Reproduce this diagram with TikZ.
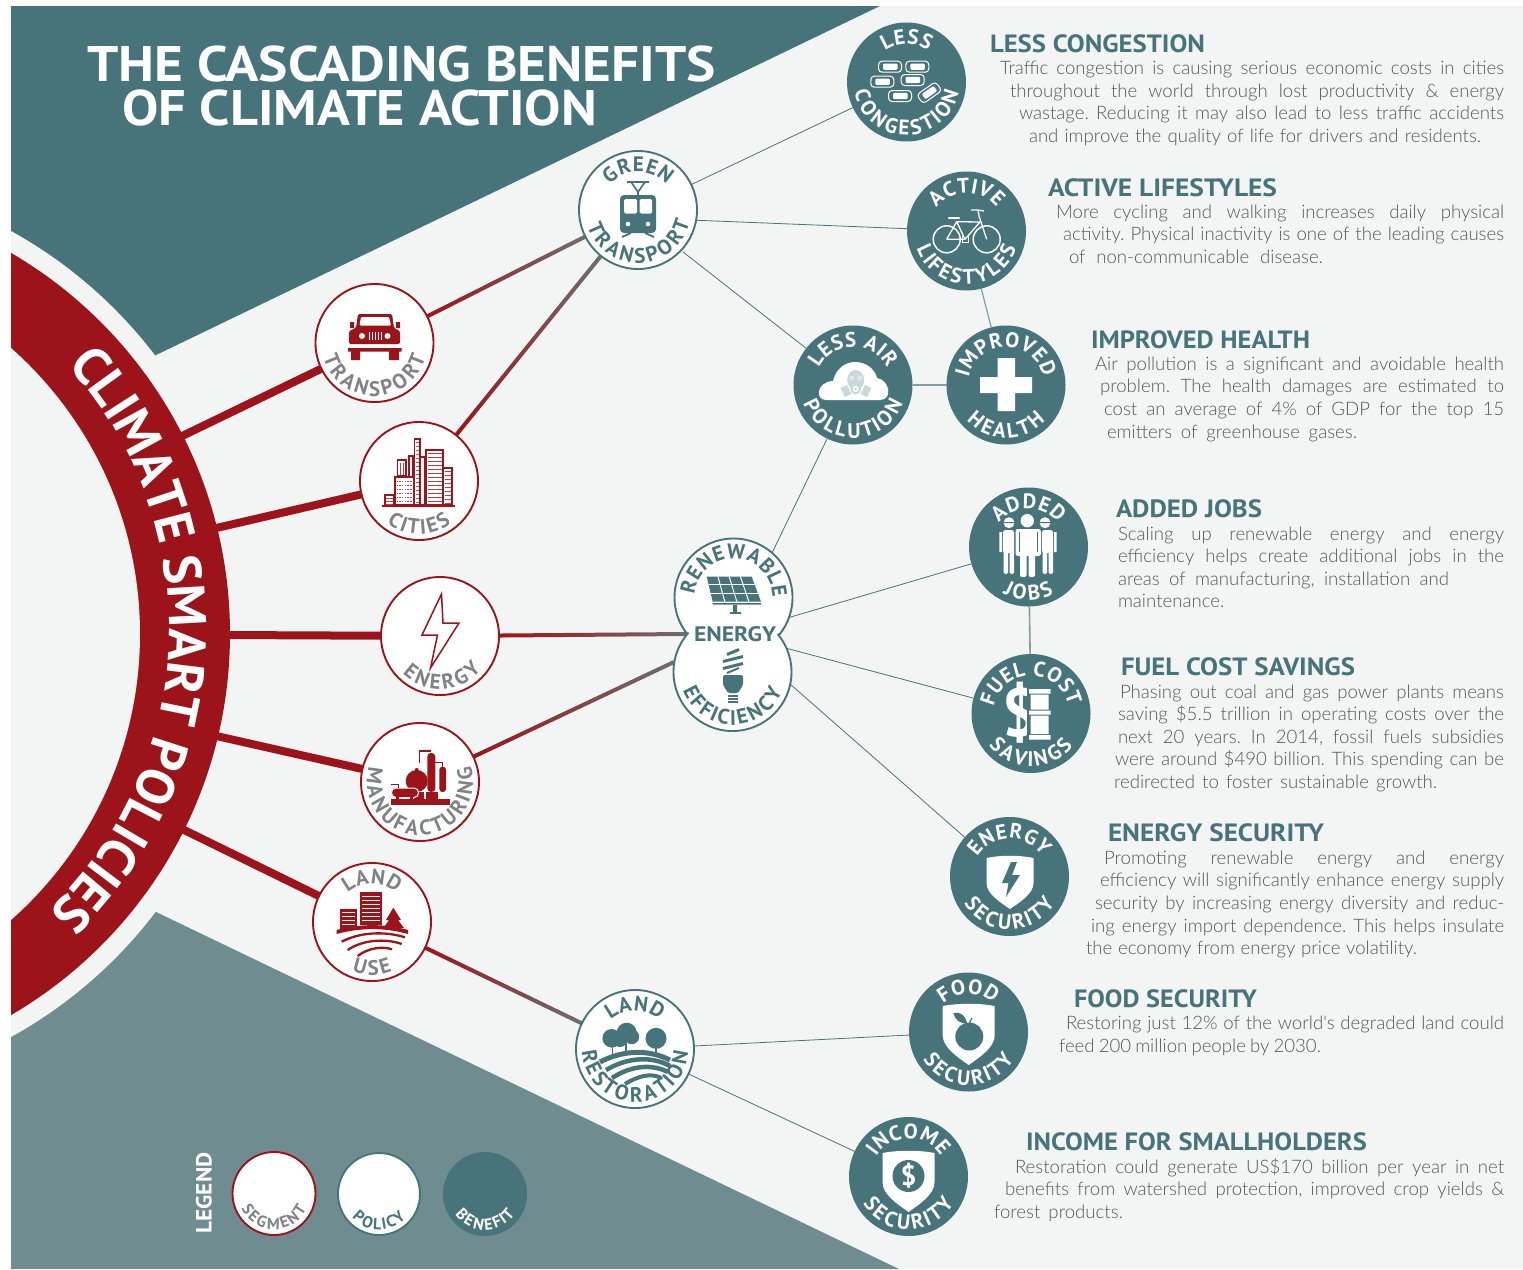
\documentclass[tikz,border=0pt]{standalone}
\usepackage{fontspec}
\usepackage{graphicx}
\usetikzlibrary{calc,decorations.text}
\newfontfamily\lblfam{PT Sans}
\newfontfamily\bodyfam{Lato Light}
\definecolor{teal1}{HTML}{47747B}
\definecolor{teal2}{HTML}{6F8C91}
\definecolor{segred}{HTML}{9C141A}
\definecolor{paper}{HTML}{F3F4F4}
\definecolor{bodyc}{HTML}{555859}
\definecolor{grayend}{HTML}{6E6E6E}
\definecolor{lblgray}{HTML}{7F8385}
\pgfdeclarelayer{bgl}\pgfdeclarelayer{conn}\pgfsetlayers{bgl,conn,main}
\tikzset{
 x=1pt,y=1pt,
 anynode/.style={circle,inner sep=0pt,outer sep=0pt,minimum size=118pt},
 segnode/.style={anynode,draw=segred,line width=1.9pt,fill=white},
 polnode/.style={anynode,draw=teal1,line width=1.9pt,fill=white},
 bennode/.style={anynode,fill=teal1,minimum size=119pt},
 thinconn/.style={draw=teal1,line width=0.8pt},
 palewire/.style={draw=teal2!85!white,line width=1.6pt},
 seglink/.style={draw=segred,line width=8pt},
 txt/.style={anchor=base west,inner sep=0pt,outer sep=0pt},
}
\newcommand\fW{\lblfam\bfseries\fontsize{21}{21}\selectfont\color{white}}
\newcommand\fT{\lblfam\bfseries\fontsize{21}{21}\selectfont\color{teal1}}
\newcommand\fG{\lblfam\bfseries\fontsize{21}{21}\selectfont\color{lblgray}}
\newcommand\fBand{\lblfam\bfseries\fontsize{53}{53}\selectfont\color{white}}
\def\arcraise{10.5}
% arc labels: node, baseline radius, angular offset, format, text
\newcommand\arctop[5]{\pgfmathsetmacro\midr{#2-2}\path[decorate,decoration={text along path,text align=center,raise=2pt,text={|#4|#5}}]
  (#1) ++({90+#3+130}:\midr) arc[start angle={90+#3+130},end angle={90+#3-130},radius=\midr];}
\newcommand\arcbot[5]{\pgfmathsetmacro\midr{#2-\arcraise}\path[decorate,decoration={text along path,text align=center,raise=-\arcraise pt,text={|#4|#5}}]
  (#1) ++({270+#3-130}:\midr) arc[start angle={270+#3-130},end angle={270+#3+130},radius=\midr];}
\newcount\txtc
\newcommand\bline[4]{\global\advance\txtc by 1
  \node[txt] (txt\the\txtc) at ({#1},{-(#3)-6}) {\hbox to \dimexpr#2pt-#1pt\relax{\bodyfam\fontsize{18.6}{20}\selectfont\color{bodyc}\frenchspacing\spaceskip=.2em plus 6em minus .14em\relax #4}};}
\newcommand\headline[4]{\global\advance\txtc by 1
  \node[txt] (txt\the\txtc) at ({#1},{-(#3)-9}) {\resizebox{\dimexpr#2pt-#1pt\relax}{\height}{\lblfam\bfseries\fontsize{25}{28}\selectfont\color{teal1}#4}};}
\newcommand\gradconn[3]{%
  \path (#1) -- (#2) coordinate[pos=0] (gs) coordinate[pos=1] (ge);
  \path let \p1=($(ge)-(gs)$) in \pgfextra{\pgfmathsetmacro\gang{atan2(\y1,\x1)}\pgfmathsetmacro\glen{veclen(\x1,\y1)}\global\let\Gang\gang\global\let\Glen\glen};
  \shade[transform canvas={shift={(gs)},rotate=\Gang},left color=segred,right color=grayend] (0,-#3) rectangle (\Glen,#3);
}
\newcommand\car[3]{\begin{scope}[shift={(#1,#2)},rotate=#3]
  \draw[white,line width=1pt,rounded corners=3.5pt] (-11.5,-5.5) rectangle (11.5,5.5);
  \fill[white,rounded corners=1.2pt] (-7,-3.2) rectangle (7.5,3.2);
\end{scope}}
\newcommand\shieldshape[5]{% cx top half height color
  \fill[#5] ({#1-#3},#2+3) .. controls ({#1-#3*.4},#2) and ({#1+#3*.4},#2) .. ({#1+#3},#2+3)
   -- ({#1+#3},{#2+#4*.52}) .. controls ({#1+#3},{#2+#4*.72}) and ({#1+#3*.4},{#2+#4*.88}) .. (#1,#2+#4)
   .. controls ({#1-#3*.4},{#2+#4*.88}) and ({#1-#3},{#2+#4*.72}) .. ({#1-#3},{#2+#4*.52}) -- cycle;}
\begin{document}
\begin{tikzpicture}
\useasboundingbox (0,0) rectangle (1523,-1269);
% ---------- nodes
\node[segnode] (transport) at (374.5,-343) {};
\node[segnode] (cities) at (419,-481) {};
\node[segnode] (energy) at (440,-636) {};
\node[segnode] (manuf) at (420,-782) {};
\node[segnode] (landuse) at (372,-922) {};
\node[polnode] (green) at (638,-210) {};
\node[polnode] (ren) at (733.5,-597.5) {};
\node[polnode] (eff) at (732.5,-672) {};
\node[polnode] (landres) at (635,-1049) {};
\node[bennode] (congest) at (906.5,-82) {};
\node[bennode] (active) at (966.5,-231) {};
\node[bennode] (lessair) at (853,-385) {};
\node[bennode] (health) at (1006,-385) {};
\node[bennode] (jobs) at (1028.5,-547) {};
\node[bennode] (fuel) at (1031,-713.5) {};
\node[bennode] (ensec) at (1009.5,-876.5) {};
\node[bennode] (food) at (968.5,-1032) {};
\node[bennode] (income) at (908.5,-1176.5) {};
\coordinate (ee) at (733,-634);
\coordinate (enend) at (686,-634);
\coordinate (mfend) at (674,-662);
\coordinate (b1) at (178,-438);
\coordinate (b2) at (212,-529);
\coordinate (b3) at (225,-635);
\coordinate (b4) at (212,-735);
\coordinate (b5) at (178,-827);
\coordinate (gact) at (690,-220);
\coordinate (actin) at (915,-229);
\coordinate (gair) at (682.7,-251.7);
% waist between the two merged circles
\fill[white] (ren.center) circle[radius=57] (eff.center) circle[radius=57];
% ---------- background
\begin{pgfonlayer}{bgl}
\begin{scope}
 \clip (11,-6) rectangle (1523,-1269);
 \fill[paper] (11,-6) rectangle (1523,-1269);
 \fill[teal1] (11,-6) -- (880,-6) -- (154,-356) -- (11,-356) -- cycle;
 \fill[teal2] (11,-1269) -- (899,-1269) -- (154,-911) -- (11,-911) -- cycle;
 \fill[paper] (-211,-634) circle[radius=460];
 \fill[segred] (-211,-634) circle[radius=441];
 \fill[paper] (-241.5,-634) circle[radius=381.5];
\end{scope}
\end{pgfonlayer}
% ---------- connectors
\begin{pgfonlayer}{conn}
\draw[seglink] (b1) -- (transport);
\draw[seglink] (b2) -- (cities);
\draw[seglink] (b3) -- (energy);
\draw[seglink] (b4) -- (manuf);
\draw[seglink] (b5) -- (landuse);
\gradconn{transport}{green}{2}
\gradconn{cities}{green}{2}
\gradconn{energy}{enend}{2}
\gradconn{manuf}{mfend}{2}
\gradconn{landuse}{landres}{2}
\draw[thinconn] (green) -- (congest);
\draw[thinconn] (gact) -- (actin);
\draw[thinconn] (gair) -- (lessair);
\draw[palewire,line width=1.2pt] (active) -- (health);
\draw[palewire] (lessair) -- (health);
\draw[thinconn] (ee) -- (lessair);
\draw[thinconn] (ee) -- (jobs);
\draw[thinconn] (ee) -- (fuel);
\draw[thinconn] (ee) -- (ensec);
\draw[palewire] (jobs) -- (fuel);
\draw[thinconn] (landres) -- (food);
\draw[thinconn] (landres) -- (income);
\end{pgfonlayer}
% ---------- title & band text
\node[txt] (title1) at (87,-81) {\resizebox{629pt}{\height}{\lblfam\bfseries\fontsize{50}{50}\selectfont\color{white}THE CASCADING BENEFITS}};
\node[txt] (title2) at (122,-125) {\resizebox{475pt}{\height}{\lblfam\bfseries\fontsize{50}{50}\selectfont\color{white}OF CLIMATE ACTION}};
\path[decorate,decoration={text along path,text align=center,text={|\fBand|CLIMATE SMART POLICIES}}]
  (-222,-628.5) ++(73:391) arc[start angle=73,end angle=-77,radius=391];
% ---------- arc labels
\arcbot{transport}{53}{0}{\fG}{TRANSPORT}
\arcbot{cities}{53}{0}{\fG}{CITIES}
\arcbot{energy}{53}{3}{\fG}{ENERGY}
\arcbot{manuf}{53}{0}{\fG}{MANUFACTURING}
\arctop{landuse}{38}{0}{\fG}{LAND}
\arcbot{landuse}{53}{0}{\fG}{USE}
\arctop{green}{38}{0}{\fT}{GREEN}
\arcbot{green}{53}{2}{\fT}{TRANSPORT}
\arctop{ren}{39}{-2}{\fT}{RENEWABLE}
\arcbot{eff}{53}{0}{\fT}{EFFICIENCY}
\arctop{landres}{38}{0}{\fT}{LAND}
\arcbot{landres}{53}{0}{\fT}{RESTORATION}
\arctop{congest}{38}{0}{\fW}{LESS}
\arcbot{congest}{53}{0}{\fW}{CONGESTION}
\arctop{active}{38}{0}{\fW}{ACTIVE}
\arcbot{active}{53}{0}{\fW}{LIFESTYLES}
\arctop{lessair}{38}{0}{\fW}{LESS AIR}
\arcbot{lessair}{53}{0}{\fW}{POLLUTION}
\arctop{health}{38}{0}{\fW}{IMPROVED}
\arcbot{health}{53}{0}{\fW}{HEALTH}
\arctop{jobs}{38}{0}{\fW}{ADDED}
\arcbot{jobs}{53}{0}{\fW}{JOBS}
\arctop{fuel}{38}{0}{\fW}{FUEL COST}
\arcbot{fuel}{53}{0}{\fW}{SAVINGS}
\arctop{ensec}{38}{0}{\fW}{ENERGY}
\arcbot{ensec}{53}{0}{\fW}{SECURITY}
\arctop{food}{38}{0}{\fW}{FOOD}
\arcbot{food}{53}{0}{\fW}{SECURITY}
\arctop{income}{38}{0}{\fW}{INCOME}
\arcbot{income}{53}{0}{\fW}{SECURITY}
\node[inner sep=0pt] (energyword) at (735,-634) {\resizebox{82pt}{\height}{\fT ENERGY}};
% ---------- icons (y running downward, real pixel coordinates)
\begin{scope}[yscale=-1]
% jeep
\begin{scope}[segred]
 \fill[segred,rounded corners=1.5pt] (356,328) -- (358,314) -- (392,314) -- (394,328) -- (400,331) -- (400,344) -- (349,344) -- (349,331) -- cycle;
 \fill[white,rounded corners=1pt] (359.5,325.5) -- (361,317) -- (389,317) -- (391,325.5) -- cycle;
 \fill[segred] (350,322) rectangle (354,328) (396,322) rectangle (400,328);
 \fill[segred] (348,348) rectangle (401.5,351.5) (351,351.5) rectangle (360,360) (389,351.5) rectangle (399,360);
 \fill[white] (362,336) circle[radius=3] (387.5,336) circle[radius=3];
 \foreach \x in {368.5,371.5,374.5,377.5,380.5} \fill[white] (\x,332) rectangle +(1.4,8);
\end{scope}
% cities
\begin{scope}[draw=segred,line width=1.1pt]
 \draw[line width=1.4pt] (382,506) -- (455,506);
 \draw (385,505) rectangle (394,495);
 \draw (395,505) rectangle (414,477);
 \draw (414.5,505) rectangle (420,439);
 \draw (420.5,505) rectangle (425,457);
 \draw (426,505) rectangle (443,450);
 \draw (443.5,505) rectangle (452,468);
 \draw (397.5,476) rectangle (406,460);
 \draw (409,476) -- (409,456) -- (413,456) -- (413,476);
 \foreach \y in {453,457,461,465,469,473,477,481,485,489,493,497,501} \draw[line width=.9pt,segred!80] (428,\y) -- (441.5,\y);
 \foreach \y in {471,475,479,483,487,491,495,499,503} \draw[line width=.9pt,segred!80] (445,\y) -- (450.5,\y);
 \foreach \y in {481,485,489,493,497,501} \draw[line width=1pt,dash pattern=on 1.5pt off 1.2pt,segred!80] (396.5,\y) -- (413,\y);
 \foreach \y in {442,446,450,454,458,462,466,470,474,478,482,486,490,494,498,502} \draw[line width=.8pt,segred!70] (415.7,\y) -- (418.8,\y);
 \foreach \y in {498,501,504} \draw[line width=.7pt,segred!80] (386,\y) -- (393,\y);
 \draw[line width=.8pt,segred!80] (400,463) -- (400,475) (403,463) -- (403,475);
\end{scope}
% energy bolt
\draw[segred,line width=1.5pt,line join=miter] (441.5,594) -- (422,635) -- (437.5,635) -- (430.5,668) -- (459,623) -- (443,623) -- cycle;
% manufacturing
\begin{scope}
 \fill[segred] (391,799) rectangle (450,804.7);
 \fill[segred] (426,791.7) rectangle (438.3,799);
 \fill[segred,rounded corners=3.5pt] (427.3,792) -- (427.3,753) -- (435.3,753) -- (435.3,792) -- cycle;
 \fill[segred,rounded corners=3pt] (439.3,792) -- (439.3,766.7) -- (446,766.7) -- (446,792) -- cycle;
 \draw[segred,line width=1.1pt] (419.3,763) -- (419.3,751) -- (431,751);
 \draw[segred,line width=1.1pt] (435,762.5) -- (442.7,762.5) -- (442.7,767);
 \fill[segred] (416.7,781) circle[radius=11];
 \fill[segred] (416.7,770) circle[radius=2];
 \fill[segred] (414,792) rectangle (424,799);
 \draw[white,line width=1pt,fill=segred,rounded corners=4.5pt] (391.5,788) rectangle (418.5,797.5);
 \fill[segred] (396,797) rectangle (399,799) (410,797) rectangle (413,799);
 \draw[segred,line width=1pt] (391,784.5) -- (398,784.5) -- (398,788);
\end{scope}
% land use
\begin{scope}
 \fill[segred] (360,892.3) rectangle (381.7,925);
 \foreach \y in {896,900,904,908,912,916,920} \fill[white] (362,\y) rectangle (379.7,\y+1.2);
 \fill[segred] (340,909.3) rectangle (357.3,929);
 \foreach \y in {912,916,920,924} \fill[white] (342,\y) rectangle (355.3,\y+1.2);
 \fill[segred] (393.3,907.7) -- (386,920) -- (389,920) -- (383.5,928) -- (404,928) -- (398,920) -- (401,920) -- cycle;
 \fill[segred] (336.7,930) .. controls (360,923.5) and (385,923.5) .. (408,930) -- (408,934) .. controls (385,927.5) and (360,927.5) .. (336.7,934) -- cycle;
 \draw[segred,line width=2.3pt] (341.7,941.7) .. controls (360,932) and (385,931) .. (405,937.3);
 \draw[segred,line width=2.3pt] (347.7,950) .. controls (362,940) and (385,938) .. (401.7,944);
 \draw[segred,line width=2.3pt] (357.7,956) .. controls (368,948) and (382,946) .. (392,949.3);
\end{scope}
% tram
\begin{scope}
 \fill[teal1,rounded corners=4pt] (620,195) rectangle (656,233);
 \fill[white,rounded corners=1.5pt] (624,199) rectangle (637,213.5) (639.5,199) rectangle (652,213.5);
 \fill[white] (628,224) circle[radius=2.3] (648,224) circle[radius=2.3];
 \draw[teal1,line width=1.6pt] (627,182) -- (649,182) (631,182) -- (638,192) -- (645,182) (638,192) -- (638,195);
 \draw[teal1,line width=1.8pt] (622,237) -- (631,233) (654,237) -- (645,233);
\end{scope}
% cars
\car{890}{66.7}{0}\car{917.3}{66.7}{0}\car{882.3}{81.7}{0}\car{912.7}{80}{0}\car{900}{96}{0}\car{929.3}{92.7}{-35}
% bike
\begin{scope}[white]
 \draw[white,line width=1.5pt] (946.7,239.3) circle[radius=13.5] (986.7,239.3) circle[radius=13.5];
 \draw[white,line width=1.3pt,line join=round] (946.7,239.3) -- (956.7,221.7) -- (965,239.3) -- (980,222) -- (956.7,221.7) (965,239.3) -- (946.7,239.3) (986.7,239.3) -- (979,216) -- (978,210) (978,210) -- (984,211) (971,210) -- (978,210);
 \draw[white,line width=2.2pt,line cap=round] (949,218) -- (959,218);
 \draw[white,line width=.9pt] (962,236) -- (962,242) -- (968,242) -- (968,236);
\end{scope}
% cloud & mask
\fill[white] (826,400) .. controls (815,400) and (816,382) .. (833,381) .. controls (836,368) and (846,362) .. (855,362) .. controls (866,362) and (875,369) .. (877,378) .. controls (890,380) and (893,400) .. (880,400) -- cycle;
\begin{scope}[teal1!28!white]
 \fill (855.7,380) ellipse[x radius=8.5,y radius=10];
 \fill[rotate around={-25:(846,391)}] (842.5,386) rectangle (849.5,396);
 \fill[rotate around={25:(866,391)}] (862.5,386) rectangle (869.5,396);
 \fill[teal1!15!white] (851.7,378) circle[radius=2.3] (859.7,378) circle[radius=2.3];
 \fill (855.7,389) circle[radius=5.5];
 \fill[white] (855.7,389) circle[radius=3];
 \fill (855.7,389) circle[radius=1.5];
\end{scope}
% plus
\fill[white] (980,377) rectangle (1032,393) (997.7,358) rectangle (1015,411);
% solar panel
\begin{scope}
 \fill[teal1] (706.7,576.7) -- (751.7,576.7) -- (761,601.7) -- (712.7,601.7) -- cycle;
 \foreach \t in {.33,.66} \draw[white,line width=1pt] ($(706.7,576.7)!\t!(712.7,601.7)$) -- ($(751.7,576.7)!\t!(761,601.7)$);
 \foreach \t in {.25,.5,.75} \draw[white,line width=1pt] ($(706.7,576.7)!\t!(751.7,576.7)$) -- ($(712.7,601.7)!\t!(761,601.7)$);
 \fill[teal1] (712.7,603) rectangle (761,604.5) (733,605) rectangle (737,612) (730,612) rectangle (741,613.8);
\end{scope}
% bulb
\begin{scope}
 \foreach \y/\r in {652/6,659/10,666/10} \draw[teal1,line width=3pt] (733-\r,\y+2.5) -- (733+\r,\y-2.5);
 \draw[teal1,line width=2pt] (727,673) -- (739,668);
 \fill[teal1,rounded corners=1.5pt] (723,675) -- (743,675) -- (743,685) -- (738,693) -- (728,693) -- (723,685) -- cycle;
 \foreach \y in {696,699,702} \draw[teal1,line width=1.2pt] (728,\y) -- (738,\y);
\end{scope}
% people
\begin{scope}
 \fill[white] (1027.3,520.7) circle[radius=6.7];
 \fill[white] (1009,522.7) circle[radius=5.5] (1045,522.7) circle[radius=5.5];
 \fill[teal1] (1003,522) rectangle (1015,523) (1039,522) rectangle (1051,523);
 \fill[white,rounded corners=2.5pt] (1015.5,529) rectangle (1041,556);
 \fill[white,rounded corners=2pt] (1020,550) rectangle (1026.5,577) (1028.5,550) rectangle (1035,577);
 \fill[white,rounded corners=2.5pt] (1003,530) rectangle (1014,553) (1042,530) rectangle (1053,553);
 \fill[white] (999.3,532) rectangle (1002,552) (1054,532) rectangle (1056.5,552);
 \fill[white,rounded corners=1.5pt] (1003.5,550) rectangle (1008,574) (1009.5,550) rectangle (1014,574) (1042.5,550) rectangle (1047,574) (1048.5,550) rectangle (1053,574);
 \draw[teal1,line width=.9pt] (1019.5,532) -- (1019.5,552) (1037,532) -- (1037,552);
\end{scope}
\end{scope}
\node[inner sep=0pt] (dollarb) at (1020,-713) {\scalebox{.9}[1]{\lblfam\bfseries\fontsize{68}{68}\selectfont\color{white}\$}};
\begin{scope}[yscale=-1]
% barrels
 \fill[teal1] (1027,680) rectangle (1050,746);
 \fill[white] (1029,689) rectangle (1050.5,693.5) (1029,710.5) rectangle (1050.5,714.5) (1029,735) rectangle (1050.5,739.5);
 \fill[white] (1030.5,694.5) rectangle (1048.5,709.5) (1030.5,715.5) rectangle (1048.5,734);
% shields
 \shieldshape{1010}{855}{23.5}{54}{white}
 \fill[teal1] (1011,862) -- (1002,883) -- (1008.5,883) -- (1006,897) -- (1020,875) -- (1012,875) -- (1017,862) -- cycle;
 \shieldshape{968.7}{1003}{26}{62}{white}
 \fill[teal1] (969.3,1036.5) circle[radius=14];
 \fill[teal1] (953.3,1013) .. controls (960,1011) and (966,1016) .. (967,1023) .. controls (960,1024) and (955,1020) .. (953.3,1013) -- cycle;
 \draw[teal1,line width=1.2pt] (969,1024) -- (972,1018);
 \shieldshape{908.5}{1150}{26}{62}{white}
 \fill[teal1] (908.5,1176) circle[radius=16];
% land restoration icon
 \fill[teal1] (611.7,1038.3) circle[radius=9.3] (626.7,1032.7) circle[radius=10] (631.7,1036.7) circle[radius=7.5] (620,1040) circle[radius=7] (656,1038.3) circle[radius=10.5];
 \draw[teal1,line width=1.2pt] (612.7,1046) -- (612.7,1056) (626,1043) -- (626,1054) (656,1048) -- (656,1055);
 \draw[teal1,line width=5pt] (600,1062) .. controls (625,1049) and (650,1050) .. (670,1060);
 \draw[teal1,line width=4.5pt] (606,1070) .. controls (628,1057) and (652,1056) .. (670,1066);
 \draw[teal1,line width=4.5pt] (612,1078) .. controls (632,1065) and (652,1064) .. (668,1072);
 \draw[teal1,line width=4pt] (625,1084) .. controls (640,1075) and (652,1073) .. (661,1078);
\end{scope}
\node[inner sep=0pt] (incomedollar) at (908.5,-1176) {\lblfam\bfseries\fontsize{28}{28}\selectfont\color{white}\$};
% ---------- legend
\node[segnode,minimum size=83pt] (lgseg) at (274,-1193.5) {};
\node[polnode,minimum size=82pt] (lgpol) at (379,-1194) {};
\node[bennode,minimum size=84pt] (lgben) at (485,-1194) {};
\newcommand\fL[1]{\lblfam\bfseries\fontsize{16}{16}\selectfont\color{#1}}
\def\arcraise{7}
\arcbot{lgseg}{36}{0}{\fL{lblgray}}{SEGMENT}
\arcbot{lgpol}{36}{0}{\fL{teal1}}{POLICY}
\arcbot{lgben}{36}{0}{\fL{white}}{BENEFIT}
\node[inner sep=0pt,rotate=90] (lgword) at (204,-1193) {\resizebox{81pt}{\height}{\lblfam\bfseries\fontsize{22}{22}\selectfont\color{white}LEGEND}};
% ---------- text blocks
\headline{990}{1205}{43}{LESS CONGESTION}
\bline{1000}{1504}{68}{Traffic congestion is causing serious economic costs in cities}
\bline{1010}{1504}{91}{throughout the world through lost productivity \& energy}
\bline{1019}{1504}{113}{wastage. Reducing it may also lead to less traffic accidents}
\bline{1029}{1481}{136}{and improve the quality of life for drivers and residents.}
\headline{1048}{1277}{187}{ACTIVE LIFESTYLES}
\bline{1056}{1504}{212}{More cycling and walking increases daily physical}
\bline{1063}{1504}{234}{activity. Physical inactivity is one of the leading causes}
\bline{1069}{1323}{257}{of non-communicable disease.}
\headline{1091}{1310}{339}{IMPROVED HEALTH}
\bline{1095}{1504}{364}{Air pollution is a significant and avoidable health}
\bline{1100}{1504}{386}{problem. The health damages are estimated to}
\bline{1104}{1504}{409}{cost an average of 4\% of GDP for the top 15}
\bline{1107}{1357}{432}{emitters of greenhouse gases.}
\headline{1116}{1262}{508}{ADDED JOBS}
\bline{1118}{1504}{534}{Scaling up renewable energy and energy}
\bline{1118}{1504}{556}{efficiency helps create additional jobs in the}
\bline{1118}{1449}{579}{areas of manufacturing, installation and}
\bline{1118}{1232}{601}{maintenance.}
\headline{1121}{1355}{666}{FUEL COST SAVINGS}
\bline{1120}{1504}{692}{Phasing out coal and gas power plants means}
\bline{1118}{1504}{714}{saving \$5.5 trillion in operating costs over the}
\bline{1118}{1504}{737}{next 20 years. In 2014, fossil fuels subsidies}
\bline{1115}{1504}{759}{were around \$490 billion. This spending can be}
\bline{1114}{1437}{782}{redirected to foster sustainable growth.}
\headline{1108}{1324}{832}{ENERGY SECURITY}
\bline{1104}{1504}{858}{Promoting renewable energy and energy}
\bline{1100}{1504}{880}{efficiency will significantly enhance energy supply}
\bline{1095}{1504}{903}{security by increasing energy diversity and reduc-}
\bline{1091}{1504}{926}{ing energy import dependence. This helps insulate}
\bline{1086}{1417}{948}{the economy from energy price volatility.}
\headline{1074}{1257}{998}{FOOD SECURITY}
\bline{1066}{1504}{1023}{Restoring just 12\% of the world's degraded land could}
\bline{1059}{1321}{1046}{feed 200 million people by 2030.}
\headline{1026}{1367}{1141}{INCOME FOR SMALLHOLDERS}
\bline{1015}{1504}{1167}{Restoration could generate US\$170 billion per year in net}
\bline{1005}{1504}{1189}{benefits from watershed protection, improved crop yields \&}
\bline{994}{1123}{1212}{forest products.}
\end{tikzpicture}
\end{document}
